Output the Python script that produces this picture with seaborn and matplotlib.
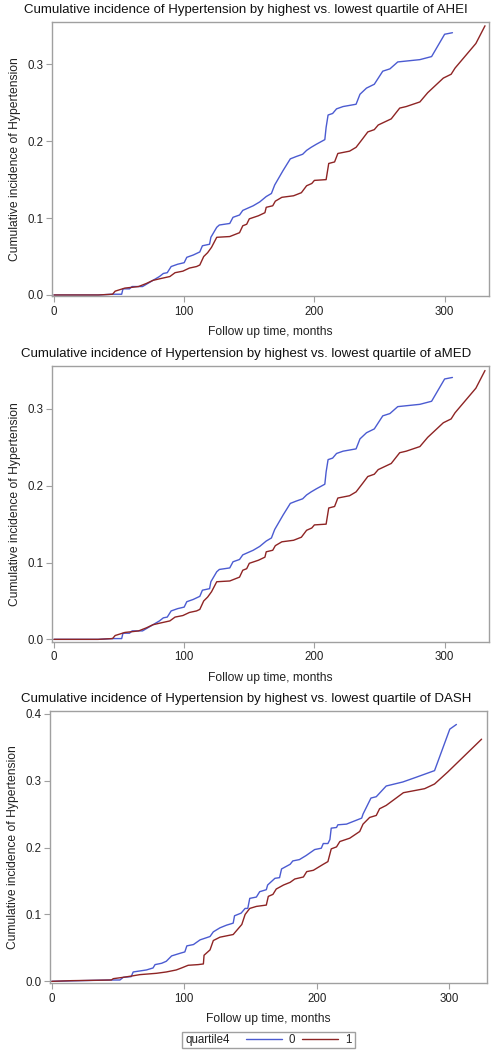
import pandas as pd
import matplotlib
matplotlib.use("Agg")
import matplotlib.pyplot as plt
import seaborn as sns
from matplotlib.patches import Rectangle

# values (time in months, cumulative incidence)
ahei_t0 = [0, 34, 45, 52, 53, 58, 60, 68, 73, 79, 81, 84, 87, 90, 95, 100, 102, 107, 112, 114,
           119.5, 120.5, 125, 127, 135, 137.5, 142.5, 145, 153, 158, 163, 167, 169.5, 176, 181.5,
           186, 191, 194, 197.5, 201.5, 208, 209, 210.5, 214, 217, 222, 232, 235, 240, 246,
           252.5, 258, 264, 281, 290, 300, 306]
ahei_v0 = [0, 0, 0.001, 0.001, 0.008, 0.008, 0.011, 0.011, 0.016, 0.022, 0.024, 0.028, 0.029,
           0.037, 0.040, 0.042, 0.049, 0.052, 0.056, 0.064, 0.066, 0.075, 0.088, 0.091, 0.093,
           0.101, 0.104, 0.110, 0.116, 0.121, 0.128, 0.132, 0.143, 0.162, 0.177, 0.180, 0.183,
           0.188, 0.192, 0.196, 0.202, 0.218, 0.234, 0.236, 0.242, 0.245, 0.248, 0.261, 0.269,
           0.274, 0.291, 0.294, 0.303, 0.306, 0.310, 0.339, 0.341]
ahei_t1 = [0, 34, 45, 47, 54.5, 60, 65, 71, 76, 81, 89, 93, 99, 104, 109.5, 112, 115, 118, 121,
           125, 135, 142.5, 145, 148, 150, 157, 162, 163, 168, 170, 175, 184, 190, 194, 198, 200,
           209, 211, 215.5, 218, 227, 232, 237, 241, 246, 249, 259, 265.5, 270.5, 281, 287, 299,
           305, 308, 324, 331]
ahei_v1 = [0, 0, 0.001, 0.005, 0.009, 0.010, 0.011, 0.015, 0.019, 0.021, 0.024, 0.029, 0.031,
           0.035, 0.037, 0.039, 0.050, 0.055, 0.062, 0.075, 0.076, 0.081, 0.090, 0.092, 0.099,
           0.103, 0.107, 0.114, 0.116, 0.122, 0.127, 0.129, 0.133, 0.142, 0.145, 0.149, 0.150,
           0.171, 0.173, 0.184, 0.187, 0.192, 0.203, 0.212, 0.215, 0.221, 0.229, 0.243, 0.245,
           0.251, 0.263, 0.282, 0.287, 0.295, 0.327, 0.350]

# the aMED panel shows the same curves as AHEI
amed_t0, amed_v0 = list(ahei_t0), list(ahei_v0)
amed_t1, amed_v1 = list(ahei_t1), list(ahei_v1)

dash_t0 = [0, 44, 51.5, 54, 60, 61.5, 71.5, 76.5, 78, 83, 86.5, 90.5, 97, 100.5, 102, 107, 112,
           119.5, 122, 127, 132, 137, 138, 143, 146, 148, 149.5, 154.5, 157, 162, 163, 168.5,
           172, 173.5, 180, 182, 187, 192, 198.5, 203.5, 205, 208.5, 210, 211, 215, 216, 222.5,
           234, 235, 241, 245, 252.5, 265, 275, 289, 300.5, 305.5]
dash_v0 = [0, 0.002, 0.002, 0.006, 0.007, 0.014, 0.017, 0.020, 0.025, 0.027, 0.030, 0.038,
           0.042, 0.044, 0.053, 0.055, 0.062, 0.067, 0.074, 0.080, 0.084, 0.087, 0.098, 0.102,
           0.109, 0.109, 0.124, 0.126, 0.134, 0.137, 0.144, 0.154, 0.155, 0.168, 0.175, 0.180,
           0.182, 0.188, 0.197, 0.199, 0.206, 0.206, 0.212, 0.229, 0.230, 0.234, 0.235, 0.244,
           0.250, 0.274, 0.276, 0.292, 0.298, 0.305, 0.315, 0.377, 0.384]
dash_t1 = [0, 15, 45, 46.5, 54, 60.5, 66.5, 79, 86.5, 94, 98, 103, 110.5, 114.5, 115, 119.5,
           122, 127, 137, 143.5, 146, 149.5, 154.5, 162, 163.5, 167, 169.5, 175, 180, 183.5, 190,
           192.5, 197.5, 205, 208.5, 211, 215, 217.5, 225, 232.5, 235, 240, 245, 247.5, 252.5,
           265.5, 281.5, 289, 299, 324.5]
dash_v1 = [0, 0.001, 0.002, 0.004, 0.006, 0.008, 0.010, 0.012, 0.014, 0.017, 0.020, 0.024,
           0.025, 0.026, 0.039, 0.047, 0.061, 0.066, 0.070, 0.085, 0.100, 0.109, 0.112, 0.114,
           0.127, 0.130, 0.138, 0.144, 0.148, 0.153, 0.156, 0.164, 0.166, 0.175, 0.179, 0.198,
           0.201, 0.209, 0.214, 0.224, 0.235, 0.245, 0.248, 0.258, 0.263, 0.282, 0.288, 0.295,
           0.313, 0.362]

scores = ["AHEI", "aMED", "DASH"]
y_ticks = [[0.0, 0.1, 0.2, 0.3], [0.0, 0.1, 0.2, 0.3], [0.0, 0.1, 0.2, 0.3, 0.4]]
x_ticks = [0, 100, 200, 300]

sns.set_style("white")
plt.rcParams['font.family'] = ['Liberation Sans', 'DejaVu Sans']

palette = {"0": "#4b5bd1", "1": "#8e2424"}
frame = "#a0a0a0"

fig = plt.figure(figsize=(4.92, 10.5), dpi=100)

# axes boxes in figure fractions, and x/y limits per panel
boxes = [[0.1057, 0.7181, 0.888, 0.2610],
         [0.1057, 0.3889, 0.888, 0.2626],
         [0.1016, 0.0638, 0.888, 0.2593]]
xlims = [(-1.5, 334), (-1.5, 334), (-1.3, 328.5)]
ylims = [(-0.0013, 0.355), (-0.003, 0.356), (-0.0025, 0.4045)]

data = [(ahei_t0, ahei_v0, ahei_t1, ahei_v1),
        (amed_t0, amed_v0, amed_t1, amed_v1),
        (dash_t0, dash_v0, dash_t1, dash_v1)]

for i, (t0, v0, t1, v1) in enumerate(data):
    df = pd.concat([
        pd.DataFrame({"time": t0, "ci": v0, "quartile4": "0"}),
        pd.DataFrame({"time": t1, "ci": v1, "quartile4": "1"}),
    ])
    ax = fig.add_axes(boxes[i])
    sns.lineplot(data=df, x="time", y="ci", hue="quartile4", palette=palette,
                 estimator=None, sort=False, linewidth=1.0, legend=False, ax=ax)
    ax.set_xlim(*xlims[i])
    ax.set_ylim(*ylims[i])
    ax.set_xticks(x_ticks)
    ax.set_yticks(y_ticks[i])
    ax.set_yticklabels([f"{v:.1f}" for v in y_ticks[i]])
    for s in ax.spines.values():
        s.set_color(frame)
        s.set_linewidth(1.0)
    ax.tick_params(axis="both", bottom=True, left=True, direction="out", length=4, width=0.8,
                   color=frame, labelsize=8.3, labelcolor="#222222", pad=2)
    ax.tick_params(axis="x", pad=3)
    ax.set_xlabel("Follow up time, months", fontsize=8.7, color="#222222", labelpad=6)
    ax.set_ylabel("Cumulative incidence of Hypertension", fontsize=8.7, color="#222222",
                  labelpad=5)
    top = boxes[i][1] + boxes[i][3]
    fig.text(0.5, top + 0.0115, "Cumulative incidence of Hypertension by highest vs. "
             f"lowest quartile of {scores[i]}", ha="center", va="center", fontsize=9.5,
             color="#111111")
    if i == 2:
        handles = ax.get_lines()[:2]

# legend: boxed, "quartile4" on the left, lines for 0 and 1
fig.patches.append(Rectangle((182 / 492, 1 - 1048 / 1050), 173 / 492, 16 / 1050,
                             transform=fig.transFigure, fill=False, edgecolor=frame,
                             linewidth=1.0))
fig.text(186 / 492, 1 - 1040 / 1050, "quartile4", ha="left", va="center", fontsize=8.3,
         color="#222222")
fig.legend(handles, ["0", "1"], loc="center left", bbox_to_anchor=(246 / 492, 1 - 1040 / 1050),
           ncol=2, frameon=False, fontsize=8.3, handlelength=3.1, handletextpad=0.6,
           columnspacing=0.6, borderpad=0, borderaxespad=0)

fig.savefig("out.png", dpi=100)
